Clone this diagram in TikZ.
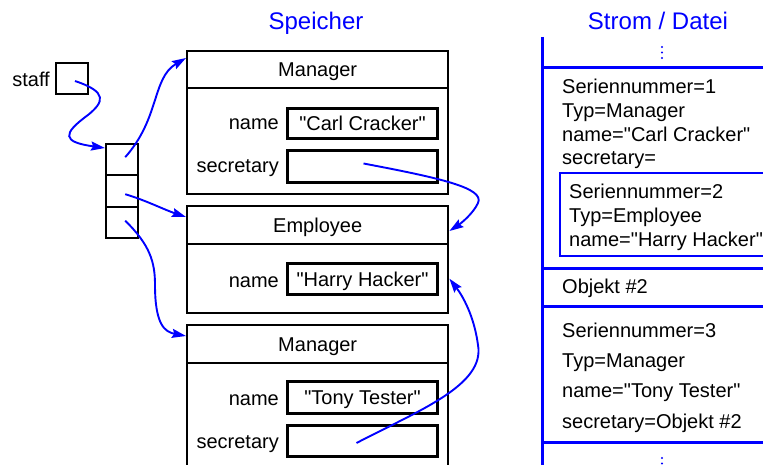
\documentclass[tikz,border=0pt]{standalone}
\usepackage{fontspec}
\setmainfont{Liberation Sans}
\usetikzlibrary{arrows.meta}
\definecolor{pblue}{RGB}{0,0,255}
\newcommand\dq{\textquotedbl}
\tikzset{
  lbl/.style={font=\fontsize{20}{24}\selectfont, inner sep=0pt},
  hdr/.style={font=\fontsize{24}{28}\selectfont, text=pblue, inner sep=0pt},
  obox/.style={draw, line width=2.4pt, anchor=north west, inner sep=0pt,
    font=\fontsize{20}{24}\selectfont, text height=14pt, text depth=0pt},
  fbox/.style={draw, line width=3pt, anchor=north west, inner sep=0pt,
    font=\fontsize{20}{24}\selectfont, text height=14pt, text depth=0pt,
    minimum width=150pt},
  ptr/.style={draw=pblue, line width=1.9pt, -{Stealth[length=14pt,width=9pt,inset=2pt]}},
  strm/.style={draw=pblue, line width=3pt},
  ibox/.style={draw=pblue, line width=2.5pt},
  sdot/.style={fill=pblue},
}
\begin{document}
\begin{tikzpicture}[x=1pt,y=-1pt]
\useasboundingbox (0,0) rectangle (763,465);
\clip (0,0) rectangle (763,465);

% headers
\node[hdr, anchor=base] (hspeicher) at (316,30) {Speicher};
\node[hdr, anchor=base] (hstrom) at (658,30) {Strom / Datei};

% staff
\node[lbl, anchor=base east] (stafflbl) at (50,87) {staff};
\node[obox, minimum width=32pt, minimum height=31pt] (staff) at (55,62) {};

% array
\node[obox, minimum width=32pt, minimum height=31pt] (a1) at (105,143) {};
\node[obox, minimum width=32pt, minimum height=32pt] (a2) at (105,174) {};
\node[obox, minimum width=32pt, minimum height=31pt] (a3) at (105,206) {};

% Manager 1
\node[obox, minimum width=261pt, minimum height=37pt] (m1h) at (186,50) {Manager};
\node[obox, minimum width=261pt, minimum height=106pt] (m1b) at (186,87) {};
\node[lbl, anchor=base east] (m1nl) at (279,130) {name};
\node[fbox, minimum height=30pt] (m1n) at (286,107) {\dq Carl Cracker\dq};
\node[lbl, anchor=base east] (m1sl) at (279,173) {secretary};
\node[fbox, minimum height=32pt] (m1s) at (286,149) {};

% Employee
\node[obox, minimum width=261pt, minimum height=38pt] (eh) at (186,205) {Employee};
\node[obox, minimum width=261pt, minimum height=69pt] (eb) at (186,243) {};
\node[lbl, anchor=base east] (enl) at (279,287) {name};
\node[fbox, minimum height=31pt] (en) at (286,262) {\dq Harry Hacker\dq};

% Manager 2
\node[obox, minimum width=261pt, minimum height=38pt] (m2h) at (186,324) {Manager};
\node[obox, minimum width=261pt, minimum height=110pt] (m2b) at (186,362) {};
\node[lbl, anchor=base east] (m2nl) at (279,405) {name};
\node[fbox, minimum height=32pt] (m2n) at (286,380) {\dq Tony Tester\dq};
\node[lbl, anchor=base east] (m2sl) at (279,448) {secretary};
\node[fbox, minimum height=31pt] (m2s) at (286,424) {};

% pointers
\coordinate (p0) at (75,81);
\draw[ptr] (p0) .. controls (108,92) and (104,102) .. (88,115)
   .. controls (62,134) and (62,142) .. ([yshift=-5pt]a1.north west);
\draw[ptr] ([shift={(3pt,2.5pt)}]a1.center) .. controls (160,118) and (152,78) .. ([yshift=-8pt]m1h.north west);
\draw[ptr] ([shift={(3pt,-3pt)}]a2.center) .. controls (145,200) and (165,210) .. ([yshift=-12pt]eh.north west);
\draw[ptr] ([shift={(3pt,2pt)}]a3.center) .. controls (150,245) and (155,262) .. (155,285)
   .. controls (155,325) and (165,332) .. ([yshift=-12pt]m2h.north west);
\draw[ptr] ([shift={(1pt,3pt)}]m1s.center) .. controls (440,178) and (485,188) .. (478,203)
   .. controls (473,214) and (460,224) .. ([yshift=-26pt]eh.north east);
\draw[ptr] ([shift={(-6pt,-2pt)}]m2s.center) .. controls (420,410) and (485,385) .. (478,345)
   .. controls (474,315) and (462,295) .. (eb.east);

% stream
\coordinate (stop) at (542,37);
\coordinate (sbot) at (542,470);
\draw[strm] (stop) -- (sbot);
\draw[strm] (542,68) -- (770,68);
\draw[strm] (542,268) -- (770,268);
\draw[strm] (542,306) -- (770,306);
\draw[strm] (542,442) -- (770,442);
\draw[ibox] (560,173) rectangle (775,256);

\fill[sdot] (662,47) circle (1.2pt);
\fill[sdot] (662,52.5) circle (1.2pt);
\fill[sdot] (662,58) circle (1.2pt);
\fill[sdot] (662,458) circle (1.2pt);
\fill[sdot] (662,463.5) circle (1.2pt);

\node[lbl, anchor=base west] (t1) at (562,94) {Seriennummer=1};
\node[lbl, anchor=base west] (t2) at (562,118) {Typ=Manager};
\node[lbl, anchor=base west] (t3) at (562,142) {name=\dq Carl Cracker\dq};
\node[lbl, anchor=base west] (t4) at (562,165) {secretary=};
\node[lbl, anchor=base west] (t5) at (569,199) {Seriennummer=2};
\node[lbl, anchor=base west] (t6) at (569,223) {Typ=Employee};
\node[lbl, anchor=base west] (t7) at (569,247) {name=\dq Harry Hacker\dq};
\node[lbl, anchor=base west] (t8) at (562,293) {Objekt \#2};
\node[lbl, anchor=base west] (t9) at (562,337) {Seriennummer=3};
\node[lbl, anchor=base west] (t10) at (562,367) {Typ=Manager};
\node[lbl, anchor=base west] (t11) at (562,397) {name=\dq Tony Tester\dq};
\node[lbl, anchor=base west] (t12) at (562,428) {secretary=Objekt \#2};
\end{tikzpicture}
\end{document}
